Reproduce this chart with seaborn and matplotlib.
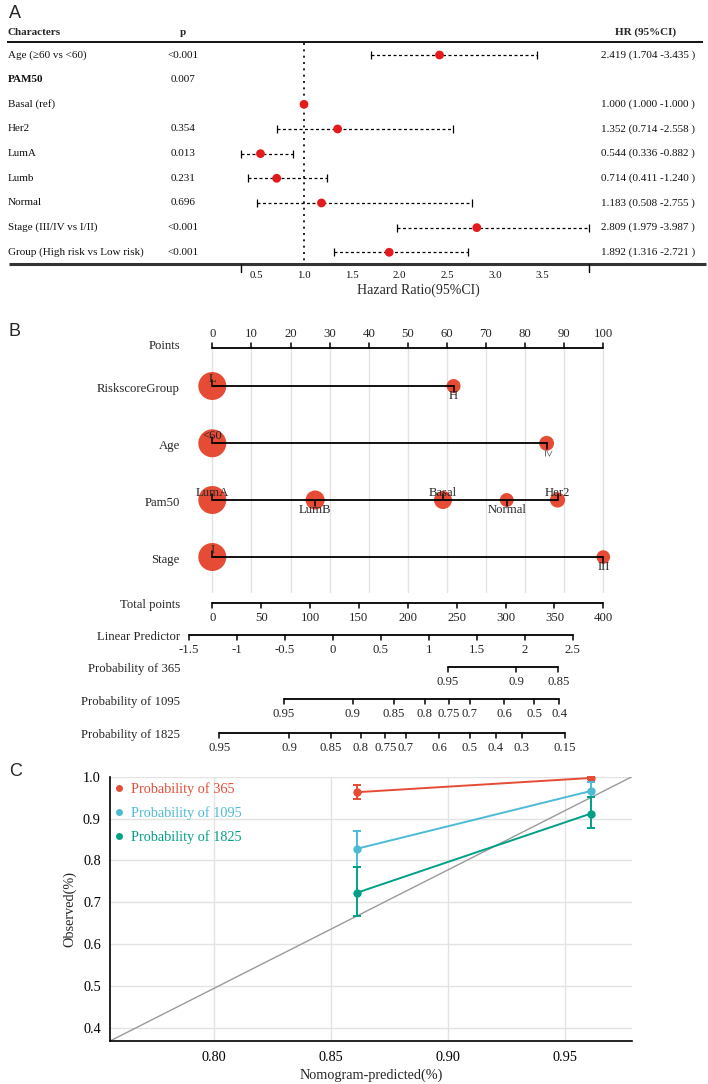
import numpy as np
import pandas as pd
import matplotlib
matplotlib.use("Agg")
import matplotlib.pyplot as plt
import seaborn as sns
from matplotlib.transforms import blended_transform_factory
from matplotlib.lines import Line2D

# ---------------- data ----------------
# Panel A : forest plot
characters = ["Age (\u226560 vs <60)", "PAM50", "Basal (ref)", "Her2", "LumA", "Lumb",
              "Normal", "Stage (III/IV vs I/II)", "Group (High risk vs Low risk)"]
bold_rows = ["PAM50"]
p_values = ["<0.001", "0.007", "", "0.354", "0.013", "0.231", "0.696", "<0.001", "<0.001"]
hr = [2.419, np.nan, 1.000, 1.352, 0.544, 0.714, 1.183, 2.809, 1.892]
hr_low = [1.704, np.nan, 1.000, 0.714, 0.336, 0.411, 0.508, 1.979, 1.316]
hr_high = [3.435, np.nan, 1.000, 2.558, 0.882, 1.240, 2.755, 3.987, 2.721]
hr_ticks = [0.5, 1.0, 1.5, 2.0, 2.5, 3.0, 3.5]

# Panel B : nomogram (points of each level, relative frequency of each level)
risk_levels = ["L", "H"]
risk_points = [0, 61.7]
risk_freq = [0.80, 0.20]
age_levels = ["<60", "\u226560"]
age_points = [0, 85.5]
age_freq = [0.78, 0.22]
pam_levels = ["LumA", "LumB", "Basal", "Normal", "Her2"]
pam_points = [0, 26.3, 59.0, 75.3, 88.3]
pam_freq = [0.41, 0.19, 0.17, 0.10, 0.12]
stage_levels = ["I", "III"]
stage_points = [0, 100]
stage_freq = [0.81, 0.19]
points_ticks = list(range(0, 101, 10))
total_ticks = list(range(0, 401, 50))
lp_ticks = [-1.5, -1, -0.5, 0, 0.5, 1, 1.5, 2, 2.5]
lp_at_zero_total = -1.254        # linear predictor at 0 total points
total_per_lp = 98.2              # total points per unit of linear predictor
prob365_labels = [0.95, 0.9, 0.85]
prob365_lp = [1.20, 1.91, 2.35]
prob1095_labels = [0.95, 0.9, 0.85, 0.8, 0.75, 0.7, 0.6, 0.5, 0.4]
prob1095_lp = [-0.51, 0.21, 0.64, 0.96, 1.21, 1.43, 1.79, 2.10, 2.36]
prob1825_labels = [0.95, 0.9, 0.85, 0.8, 0.75, 0.7, 0.6, 0.5, 0.4, 0.3, 0.15]
prob1825_lp = [-1.18, -0.45, -0.02, 0.29, 0.55, 0.76, 1.11, 1.43, 1.70, 1.97, 2.42]

# Panel C : calibration
cal_names = ["Probability of 365", "Probability of 1095", "Probability of 1825"]
cal_pred = [0.861, 0.961]
obs_365 = [0.963, 0.997]
low_365 = [0.947, 0.994]
high_365 = [0.980, 0.999]
obs_1095 = [0.828, 0.966]
low_1095 = [0.785, 0.952]
high_1095 = [0.871, 0.987]
obs_1825 = [0.723, 0.912]
low_1825 = [0.667, 0.877]
high_1825 = [0.785, 0.952]
cal_xticks = [0.80, 0.85, 0.90, 0.95]
cal_yticks = [0.4, 0.5, 0.6, 0.7, 0.8, 0.9, 1.0]

# ---------------- style ----------------
sns.set_style("white")
SERIF = ["Liberation Serif", "DejaVu Serif"]
plt.rcParams["font.family"] = SERIF
plt.rcParams["axes.unicode_minus"] = False
RED_F = "#E41A1C"
RED_N = "#E64B35"
CAL_COLORS = ["#E64B35", "#4DBBD5", "#00A087"]

W, H = 708, 1084
fig = plt.figure(figsize=(W / 100, H / 100), dpi=100)


def rect(x0, y0, x1, y1):
    return [x0 / W, 1 - y1 / H, (x1 - x0) / W, (y1 - y0) / H]


# ================= Panel A =================
axA = fig.add_axes(rect(0, 0, W, 300))
HR1_PX, HR_SCALE = 304, 95.5
axA.set_xlim(1 - HR1_PX / HR_SCALE, 1 + (W - HR1_PX) / HR_SCALE)
axA.set_ylim(300, 0)
axA.axis("off")
tA = blended_transform_factory(axA.transAxes, axA.transData)
row_y = 55 + 24.66 * np.arange(len(characters))
FA = 8

axA.text(8 / W, 32.3, "Characters", transform=tA, fontsize=FA, weight="bold", va="center")
axA.text(183 / W, 32.3, "p", transform=tA, fontsize=FA, weight="bold", va="center", ha="center")
axA.text(646 / W, 32.3, "HR (95%CI)", transform=tA, fontsize=FA, weight="bold", va="center", ha="center")
axA.plot([7 / W, 703 / W], [42.3, 42.3], transform=tA, color="black", lw=1.3, solid_capstyle="butt")
axA.plot([9 / W, 706 / W], [264, 264], transform=tA, color="#333333", lw=2.2, solid_capstyle="butt")

for i, (name, p, h, lo, hi) in enumerate(zip(characters, p_values, hr, hr_low, hr_high)):
    y = row_y[i]
    axA.text(8 / W, y, name, transform=tA, fontsize=FA, va="center",
             weight="bold" if name in bold_rows else "normal", color="#111111")
    axA.text(183 / W, y, p, transform=tA, fontsize=FA, va="center", ha="center", color="#111111")
    if not np.isnan(h):
        axA.text(601 / W, y, f"{h:.3f} ({lo:.3f} -{hi:.3f} )", transform=tA, fontsize=FA,
                 va="center", color="#111111")

# reference line at HR = 1
axA.plot([1, 1], [43, 264], color="black", lw=1.2, ls=(0, (1.2, 2.6)), zorder=1)

dfA = pd.DataFrame({"hr": hr, "lo": hr_low, "hi": hr_high, "y": row_y}).dropna()
ci = dfA[dfA["hi"] > dfA["lo"]]
eb = axA.errorbar(ci["hr"], ci["y"], xerr=[ci["hr"] - ci["lo"], ci["hi"] - ci["hr"]],
                  fmt="none", ecolor="black", elinewidth=0.9, capsize=2.7, capthick=0.9, zorder=2)
eb[2][0].set_linestyle((0, (2.4, 2.0)))
sns.scatterplot(data=dfA, x="hr", y="y", color=RED_F, s=40, edgecolor="none", ax=axA,
                zorder=4, legend=False)
axA.set_xlim(1 - HR1_PX / HR_SCALE, 1 + (W - HR1_PX) / HR_SCALE)
axA.set_ylim(300, 0)
axA.axis("off")

x_min, x_max = np.nanmin(hr_low), np.nanmax(hr_high)
for xv in (x_min, x_max):
    axA.plot([xv, xv], [264, 272], color="black", lw=1.0)
for t in hr_ticks:
    axA.text(t, 276, f"{t:.1f}", fontsize=7.8, ha="center", va="center", color="#111111")
axA.text(418 / W, 290, "Hazard Ratio(95%CI)", transform=tA, fontsize=10, ha="center", va="center")

# ================= Panel B =================
axB = fig.add_axes(rect(0, 300, W, 760))
P0, PS = 212.3, 3.91
axB.set_ylim(760, 300)
tB = blended_transform_factory(axB.transAxes, axB.transData)
FB = 9.2
LBL_X = 180 / W


def lp_to_pts(lp):
    # linear predictor -> total points -> points scale (0-100 width)
    return (np.asarray(lp, float) - lp_at_zero_total) * total_per_lp / 4.0


def row_label(y, text):
    axB.text(LBL_X, y + 2.5, text, transform=tB, ha="right", va="center", fontsize=FB)


# Points scale
yP = 348.3
for t in points_ticks:
    axB.plot([t, t], [348.3, 592], color="#E2E2E2", lw=1.0, zorder=0)
axB.plot([0, 100], [yP, yP], color="black", lw=1.3, zorder=3)
for t in points_ticks:
    axB.plot([t, t], [yP, yP - 5], color="black", lw=1.1)
    axB.text(t, yP - 14, f"{t}", ha="center", va="center", fontsize=FB)
row_label(yP - 5, "Points")

nomo = [("RiskscoreGroup", risk_levels, risk_points, risk_freq),
        ("Age", age_levels, age_points, age_freq),
        ("Pam50", pam_levels, pam_points, pam_freq),
        ("Stage", stage_levels, stage_points, stage_freq)]
var_y = [386, 443.3, 500, 557]
S_MAX = 406
for (name, levels, pts, freq), y in zip(nomo, var_y):
    rel = np.asarray(freq) / max(freq)
    df = pd.DataFrame({"pts": pts, "y": [y] * len(pts), "lvl": levels})
    sns.scatterplot(data=df, x="pts", y="y", size="lvl",
                    sizes=dict(zip(levels, rel * S_MAX)), color=RED_N,
                    edgecolor="none", legend=False, ax=axB, zorder=2)
    axB.plot([min(pts), max(pts)], [y, y], color="black", lw=1.3, zorder=3)
    order = np.argsort(pts)
    for k, idx in enumerate(order):
        xv, lab = pts[idx], levels[idx]
        up = (k % 2 == 0)
        axB.plot([xv, xv], [y, y - 6 if up else y + 6], color="black", lw=1.1, zorder=3)
        if up:
            axB.text(xv, y - 1.5, lab, ha="center", va="bottom", fontsize=FB, zorder=4)
        elif lab.startswith("\u2265"):
            axB.text(xv, y + 6, "\u2265", ha="center", va="top", fontsize=FB,
                     rotation=-90, zorder=4, color="#333333")
        else:
            axB.text(xv, y + 4, lab, ha="center", va="top", fontsize=FB, zorder=4)
    row_label(y, name)


def scale(y, positions, labels, label_text):
    positions = np.asarray(positions, float)
    axB.plot([positions.min(), positions.max()], [y, y], color="black", lw=1.3)
    for xv, lab in zip(positions, labels):
        axB.plot([xv, xv], [y, y + 5], color="black", lw=1.1)
        axB.text(xv, y + 15, lab, ha="center", va="center", fontsize=FB)
    row_label(y, label_text)


scale(602.7, np.array(total_ticks) / 4.0, [f"{t}" for t in total_ticks], "Total points")
scale(634.7, lp_to_pts(lp_ticks), [f"{t:g}" for t in lp_ticks], "Linear Predictor")
scale(666.7, lp_to_pts(prob365_lp), [f"{t:g}" for t in prob365_labels], "Probability of 365")
scale(699.3, lp_to_pts(prob1095_lp), [f"{t:g}" for t in prob1095_labels], "Probability of 1095")
scale(732.7, lp_to_pts(prob1825_lp), [f"{t:g}" for t in prob1825_labels], "Probability of 1825")

axB.set_xlim(-P0 / PS, (W - P0) / PS)
axB.set_ylim(760, 300)
axB.axis("off")

# ================= Panel C =================
axC = fig.add_axes(rect(110, 776.7, 632, 1041))
XL = (0.7555, 0.9785)
YL = (0.369, 1.0)
cal_df = pd.DataFrame({
    "pred": cal_pred * 3,
    "obs": obs_365 + obs_1095 + obs_1825,
    "lo": low_365 + low_1095 + low_1825,
    "hi": high_365 + high_1095 + high_1825,
    "curve": [n for n in cal_names for _ in cal_pred],
})
axC.plot([0, 1], [0, 1], transform=axC.transAxes, color="#9A9A9A", lw=1.0, zorder=1)
pal = dict(zip(cal_names, CAL_COLORS))
sns.lineplot(data=cal_df, x="pred", y="obs", hue="curve", palette=pal, marker="o",
             markersize=6, markeredgewidth=0, lw=1.4, legend=False, errorbar=None,
             sort=False, ax=axC, zorder=3)
for name, c in pal.items():
    d = cal_df[cal_df["curve"] == name]
    axC.errorbar(d["pred"], d["obs"], yerr=[d["obs"] - d["lo"], d["hi"] - d["obs"]],
                 fmt="none", ecolor=c, elinewidth=1.4, capsize=3.2, capthick=1.4,
                 zorder=3, clip_on=False)
axC.set_xlim(*XL)
axC.set_ylim(*YL)
axC.set_xticks(cal_xticks)
axC.set_xticklabels([f"{t:.2f}" for t in cal_xticks])
axC.set_xticks(list(XL), minor=True)
axC.set_yticks(cal_yticks)
axC.set_yticklabels([f"{t:.1f}" for t in cal_yticks])
axC.grid(True, which="major", color="#E3E3E3", lw=1.0)
axC.set_axisbelow(True)
for s in ("top", "right"):
    axC.spines[s].set_visible(False)
for s in ("left", "bottom"):
    axC.spines[s].set_color("black")
    axC.spines[s].set_linewidth(1.2)
axC.tick_params(axis="both", which="both", direction="out", color="black", width=1.1,
                labelsize=10.3, labelcolor="black")
axC.tick_params(axis="x", which="both", length=4.5, pad=3)
axC.tick_params(axis="y", which="both", length=3.6, pad=3)
axC.set_xlabel("Nomogram-predicted(%)", fontsize=10.3, labelpad=3)
axC.set_ylabel("Observed(%)", fontsize=10.3, labelpad=5)
handles = [Line2D([], [], ls="", marker="o", color=c, markersize=5, markeredgewidth=0)
           for c in CAL_COLORS]
axC.legend(handles, cal_names, loc="upper left", bbox_to_anchor=(0.0, 1.0), frameon=False,
           labelcolor=CAL_COLORS, fontsize=10.3, handlelength=0.5, handletextpad=0.55,
           borderaxespad=0.2, borderpad=0.2, labelspacing=0.72)

# panel letters
for lab, y in (("A", 13), ("B", 331), ("C", 771)):
    fig.text(9 / W, 1 - y / H, lab, fontsize=13, family="Liberation Sans", va="center", ha="left")

fig.savefig("out.png", dpi=100)
